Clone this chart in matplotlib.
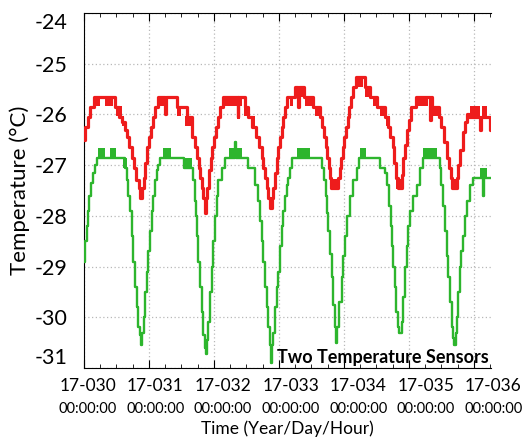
import numpy as np
import matplotlib.pyplot as plt
from matplotlib.ticker import MultipleLocator

plt.rcParams['font.family'] = ['Lato', 'DejaVu Sans']

# sensor 1 (red): step breakpoints, hours since 17-030 00:00:00
red_hours = [0, 0.5, 1.3, 2.2, 3.8, 11.5, 13, 14, 15, 16, 16.8, 17.6, 18.5, 19.3, 20.2, 20.8,
             21.5, 22, 22.6, 23.3, 24, 24.8, 25.6, 26.4, 27.5, 29.9, 30.1,
             34.2, 38, 39.8, 41, 41.6, 42.3, 42.9, 43.4, 44, 44.7, 45.0, 45.6, 46.2, 46.8, 47.4,
             48, 48.8, 49.6, 50.4, 51.5, 56.8, 57.0,
             59.5, 60.5, 62, 63.5, 64.7, 65.6, 66.2, 66.8, 67.4, 68, 68.6, 69.4, 69.9, 70.5, 71.1,
             71.7, 72.4, 73, 73.6, 74.2, 75,
             78, 78.9, 79.3, 81.2, 84.7, 87.3, 88, 88.6, 89.2, 89.8, 90.4, 90.9, 91.4, 93.8, 94.4,
             95, 95.6, 96.2, 96.8, 97.4, 98, 98.6, 99.2, 100.5, 103.6, 105.6, 108.1, 111, 112.2,
             113, 114, 114.6, 115.2, 115.8, 117.3, 117.9, 118.6, 119.3, 120, 120.8, 122.5, 127.8,
             128.0, 128.5, 131, 132, 133, 134, 134.8, 135.5, 136, 137.8, 138.3, 139, 139.8, 140.6,
             141.5, 142.3, 146.3, 146.5, 150.0, 150.3]
red_temp = [-26.5, -26.25, -26.05, -25.85, -25.65, -25.85, -26.05, -26.15, -26.3, -26.45, -26.65,
            -26.85, -27.05, -27.3, -27.45, -27.65,
            -27.45, -27.25, -26.95, -26.65, -26.45, -26.25, -26.05, -25.85, -25.65, -26.0, -25.65,
            -25.85, -26.05, -26.45, -26.65, -26.85, -27.05, -27.25, -27.45, -27.65, -27.95, -27.65,
            -27.45, -27.1, -26.85, -26.65,
            -26.45, -26.25, -26.05, -25.85, -25.65, -26.05, -25.65,
            -25.85, -26.05, -26.25, -26.45, -26.65, -26.85, -27.05, -27.25, -27.45, -27.65, -27.85,
            -27.65, -27.45, -27.15, -26.85,
            -26.65, -26.45, -26.25, -26.05, -25.85, -25.65,
            -25.45, -25.85, -25.45, -25.65, -25.85, -26.05, -26.25, -26.45, -26.65, -26.85, -27.05,
            -27.25, -27.45, -27.25, -27.05,
            -26.85, -26.65, -26.45, -26.25, -26.05, -25.85, -25.65, -25.45, -25.26, -25.45, -25.65,
            -25.85, -26.05, -26.25,
            -26.45, -26.65, -26.95, -27.25, -27.45, -27.2, -26.85, -26.6, -26.3, -26.1, -25.85,
            -25.65, -26.1,
            -25.65, -25.85, -26.05, -26.25, -26.55, -26.85, -27.05, -27.25, -27.45, -27.25, -27.0,
            -26.7, -26.35, -26.15,
            -26.0, -26.05, -26.3, -26.05, -26.3, -26.3]
# flickering between two levels: start hour, end hour, low, high
red_blocks = [(4, 6, -25.84, -25.65), (7.8, 10.8, -25.84, -25.65), (12, 14, -26.04, -25.84),
              (14, 14.8, -26.23, -26.04), (28, 29.5, -25.84, -25.65), (34.2, 36, -26.04, -25.84),
              (37.3, 39.8, -26.23, -26.04), (52, 58.5, -25.84, -25.65), (59, 61, -26.04, -25.84),
              (61.6, 63.2, -26.23, -26.04), (76, 77.3, -25.84, -25.65), (78.5, 81, -25.65, -25.45),
              (81.6, 84.7, -25.84, -25.65), (85.3, 87.7, -26.04, -25.84), (92.1, 94.0, -27.47, -27.27),
              (100.5, 103, -25.45, -25.26), (103.7, 106.1, -25.65, -25.45),
              (106.7, 108.1, -25.84, -25.65), (109.4, 111.2, -26.04, -25.84),
              (111.7, 113, -26.23, -26.04), (115.4, 117.3, -27.47, -27.27),
              (122.8, 127.1, -25.84, -25.65), (129, 131.4, -26.04, -25.84),
              (135.8, 137.6, -27.47, -27.27), (142.6, 146.3, -26.04, -25.84),
              (146.9, 148.8, -26.04, -25.84)]

# sensor 2 (green)
green_hours = [0, 0.5, 1, 1.5, 2, 2.7, 3.3, 4, 4.7, 15, 15.8, 16.4, 17, 17.6, 18.2, 18.8, 19.4,
               20.1, 20.6, 21, 21.4, 22, 22.6, 23.1, 23.7, 24.4, 25, 25.6, 26.2, 26.8, 27.5, 28,
               37, 39.8, 40.4, 41, 41.3, 41.6, 42.2, 42.8, 43.4, 44.1, 44.6, 45.2, 45.5, 45.9, 46.5,
               47.1, 47.7, 48.4, 49, 49.6, 50.8, 52, 55.9, 56.1,
               60.7, 63.2, 64.4, 65, 65.6, 66.2, 66.8, 67.4, 68.1, 68.6, 69, 69.5, 69.9, 70.5, 71.1,
               71.7, 72.4, 73, 73.6, 74.2, 74.8, 75.4, 76.2, 76.7,
               88, 88.7, 89.3, 89.6, 90.2, 90.8, 91.5, 92.1, 92.6, 93, 93.6, 94.3, 95.1, 95.7, 96.4,
               97, 98.2, 99.4, 100.7, 101.5,
               109.4, 111.2, 112, 112.6, 113.2, 113.7, 114.2, 114.8, 115.4, 116, 116.4, 117.3, 117.9,
               118.5, 119.1, 119.8, 120.4, 121.6, 122.8, 124.1, 125.3,
               131.4, 132, 132.6, 133.3, 133.9, 134.5, 135.1, 135.8, 136.3, 136.7, 137.2, 137.6,
               138.2, 138.8, 139.4, 140.1, 140.7, 141.3, 142.6, 143.8, 147.5, 147.8, 150.3]
green_temp = [-28.9, -28.5, -28.2, -27.9, -27.6, -27.35, -27.15, -27.0, -26.85, -27.05, -27.3,
              -27.6, -27.9, -28.4, -28.9, -29.4, -29.8,
              -30.2, -30.35, -30.55, -30.3, -30.0, -29.5, -29.1, -28.7, -28.3, -27.9, -27.6, -27.3,
              -27.1, -27.0, -26.85,
              -27.05, -27.05, -27.3, -27.7, -28.0, -28.4, -28.9, -29.4, -29.9, -30.35, -30.6, -30.72,
              -30.45, -30.1, -29.5,
              -29.0, -28.5, -28.0, -27.6, -27.3, -27.05, -26.85, -26.55, -26.85,
              -27.05, -27.4, -27.7, -28.1, -28.5, -28.9, -29.4, -29.8, -30.2, -30.55, -30.9, -30.55,
              -30.3, -29.8, -29.4,
              -29.1, -28.6, -28.2, -27.9, -27.6, -27.4, -27.25, -27.05, -26.85,
              -27.05, -27.3, -27.6, -27.95, -28.3, -28.75, -29.2, -29.75, -30.2, -30.5, -30.2, -29.7,
              -29.2, -28.8, -28.4,
              -28.0, -27.6, -27.3, -27.05, -26.85,
              -27.05, -27.15, -27.4, -27.8, -28.2, -28.6, -29.0, -29.4, -29.9, -30.2, -30.3, -30.1,
              -29.6,
              -29.0, -28.6, -28.2, -27.9, -27.6, -27.4, -27.05, -26.85,
              -27.05, -27.4, -27.8, -28.3, -28.8, -29.2, -29.7, -30.2, -30.4, -30.55, -30.3, -30.0,
              -29.5, -29.0, -28.7, -28.4, -28.0, -27.7, -27.4, -27.25, -27.6, -27.25, -27.25]
green_blocks = [(5.3, 7.8, -26.85, -26.67), (9.6, 12, -26.85, -26.67), (14.5, 15.8, -27.05, -26.85),
                (29.3, 32, -26.85, -26.67), (37.3, 39.8, -27.05, -26.85), (53.5, 58.5, -26.85, -26.67),
                (78.5, 83.5, -26.85, -26.67), (101.8, 104.3, -26.85, -26.67),
                (125.3, 130.2, -26.85, -26.67), (146.3, 148.8, -27.24, -27.05)]

day_labels = ['17-030', '17-031', '17-032', '17-033', '17-034', '17-035', '17-036']
hour_labels = ['00:00:00'] * 7
y_ticks = [-31, -30, -29, -28, -27, -26, -25, -24]

RED = '#ee1c1c'
GREEN = '#2db52d'

fig = plt.figure(figsize=(5.23, 4.41), dpi=100)
ax = fig.add_axes([0.1606, 0.1655, 0.7782, 0.805])

ax.step(np.array(green_hours) / 24, green_temp, where='post', color=GREEN, lw=1.7, zorder=3)
for a, b, lo, hi in green_blocks:
    ax.fill_between([a / 24, b / 24], lo, hi, color=GREEN, lw=0, zorder=3)
ax.step(np.array(red_hours) / 24, red_temp, where='post', color=RED, lw=2.3, zorder=4)
for a, b, lo, hi in red_blocks:
    ax.fill_between([a / 24, b / 24], lo, hi, color=RED, lw=0, zorder=4)

ax.set_xlim(0, 150.3 / 24)
ax.set_ylim(-31, -24)

ax.set_yticks(y_ticks)
ax.set_yticklabels([str(v) for v in y_ticks], fontsize=15.5)
ax.get_yticklabels()[0].set_va('bottom')
ax.get_yticklabels()[-1].set_va('top')
ax.tick_params(axis='y', length=0, pad=12)
ax.set_ylabel('Temperature (°C)', fontsize=16, labelpad=3)

ax.xaxis.set_major_locator(MultipleLocator(1))
ax.xaxis.set_minor_locator(MultipleLocator(0.25))
ax.tick_params(axis='x', which='both', direction='in', top=True, bottom=True, labelbottom=False)
ax.tick_params(axis='x', which='major', length=6)
ax.tick_params(axis='x', which='minor', length=3)

ax.grid(True, color='#b8b8b8', linestyle=(0, (1, 2)), lw=0.9)
ax.spines['right'].set_visible(False)

# tick labels spread evenly along the axis
xpos = np.linspace(0.06, 6.3, len(day_labels))
for x, d, t in zip(xpos, day_labels, hour_labels):
    ax.text(x, -0.028, d, transform=ax.get_xaxis_transform(), ha='center', va='top',
            fontsize=12.5, clip_on=False)
    ax.text(x, -0.096, t, transform=ax.get_xaxis_transform(), ha='center', va='top',
            fontsize=10.5, clip_on=False)
ax.text(0.5, -0.148, 'Time (Year/Day/Hour)', transform=ax.transAxes, ha='center', va='top',
        fontsize=12.5)

ax.text(0.995, 0.005, 'Two Temperature Sensors', transform=ax.transAxes, ha='right',
        va='bottom', fontsize=13, fontweight='bold')

fig.savefig('out.png', dpi=100)
